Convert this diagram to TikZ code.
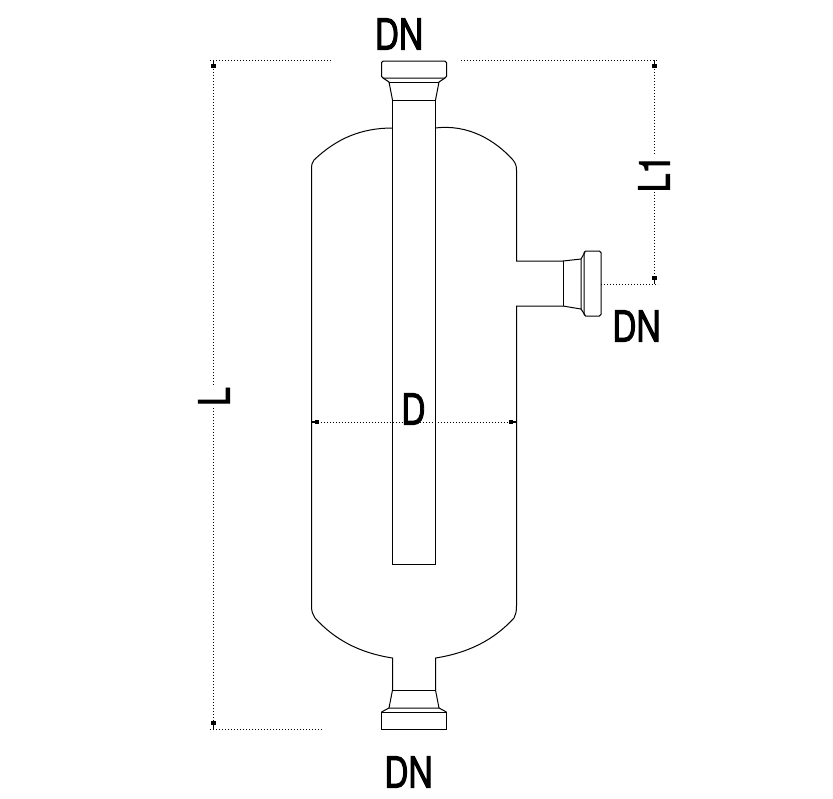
\documentclass[tikz,border=0pt]{standalone}
\usepackage{fontspec}
\usetikzlibrary{arrows.meta}
\newfontfamily\dimfont[FakeStretch=0.78,FakeBold=2]{TeX Gyre Heros}
\tikzset{
  outline/.style={line width=0.03cm, black},
  dimline/.style={line width=0.03cm, dash pattern=on 0.03cm off 0.06cm, black},
  dimtip/.tip={Square[length=0.12cm,width=0.13cm,sep=0pt]Square[length=0.11cm,width=0.04cm]},
  dimlabel/.style={inner sep=0pt, font=\dimfont\fontsize{36.6}{40}\selectfont}
}
\begin{document}
\begin{tikzpicture}[x=0.03cm, y=-0.03cm]
  \useasboundingbox (0,0) rectangle (833,798);
  % Vessel shell, from the pipe stub at the top round to the side branch
  \draw[outline] (392.5,128) .. controls (362,128) and (337,138) .. (314,160)
    .. controls (312,162) and (311.5,165) .. (311.5,170) -- (311.5,606)
    .. controls (311.5,612) and (313,615) .. (315,618)
    .. controls (335,640) and (360,653) .. (392.5,658) -- (392.5,690);
  \draw[outline] (435.5,128) .. controls (468,124) and (495,140) .. (513,160)
    .. controls (515.5,163) and (516.5,166) .. (516.5,170) -- (516.5,261) -- (563,261);
  \draw[outline] (563,306) -- (516.5,306) -- (516.5,606)
    .. controls (516.5,612) and (515.5,615) .. (514,618)
    .. controls (494,640) and (468,653) .. (435.5,658) -- (435.5,690);
  % Dip pipe
  \draw[outline] (392.5,100) rectangle (435.5,564);
  % Top nozzle
  \draw[outline, rounded corners=0.05cm] (381.5,78) rectangle (446.5,61);
  \draw[outline] (383,78) -- (389,82) -- (392.5,100);
  \draw[outline] (445,78) -- (439,82) -- (435.5,100);
  \draw[outline] (389,82) -- (439,82);
  % Side nozzle
  \draw[outline] (563,261) -- (563,306);
  \draw[outline] (563,261) -- (581,259) -- (581,309) -- (563,306);
  \draw[outline] (581,259) -- (585,252);
  \draw[outline] (581,309) -- (585,315);
  \draw[outline, rounded corners=0.05cm] (584,251) rectangle (601,316);
  % Bottom nozzle
  \draw[outline] (392.5,690) -- (435.5,690);
  \draw[outline] (392.5,690) -- (389,708) -- (439,708) -- (435.5,690);
  \draw[outline] (389,708) -- (381.5,712);
  \draw[outline] (439,708) -- (446.5,712);
  \draw[outline] (381.5,712) rectangle (446.5,729);
  % Dimension points
  \coordinate (LTOP) at (213.5,60);
  \coordinate (LBOT) at (213.5,729);
  \coordinate (LTOPOUT) at (210,60);
  \coordinate (LBOTOUT) at (210,729);
  \coordinate (LTOPEND) at (331,60);
  \coordinate (LBOTEND) at (323,729);
  \coordinate (RTOP) at (654.5,60);
  \coordinate (RTOPEND) at (461,60);
  \coordinate (RTOPOUT) at (658,60);
  \coordinate (RBOT) at (654.5,284);
  \coordinate (RBOTEND) at (601,284);
  \coordinate (RBOTOUT) at (658,284);
  \coordinate (DLEFT) at (311.5,422);
  \coordinate (DRIGHT) at (516.5,422);
  % Dimension lines
  \draw[dimline] (LTOPOUT) -- (LTOPEND);
  \draw[dimline] (LBOTOUT) -- (LBOTEND);
  \draw[dimline] (RTOPEND) -- (RTOPOUT);
  \draw[dimline] (RBOTEND) -- (RBOTOUT);
  \draw[dimline, dimtip-dimtip] (LTOP) -- (LBOT);
  \draw[dimline, dimtip-dimtip] (RTOP) -- (RBOT);
  \draw[dimline, dimtip-dimtip] (DLEFT) -- (DRIGHT);
  % Labels
  \node[dimlabel] (DNTOP) at (399,34) {DN};
  \node[dimlabel] (DNSIDE) at (636.5,326) {DN};
  \node[dimlabel] (DNBOT) at (408.5,772) {DN};
  \node[dimlabel] (DIA) at (413.5,409) {D};
  \node[dimlabel, rotate=90, fill=white] (LEN) at (214,396.5) {L};
  \node[dimlabel, rotate=90, fill=white] (LEN1) at (654,173.5) {L1};
\end{tikzpicture}
\end{document}
